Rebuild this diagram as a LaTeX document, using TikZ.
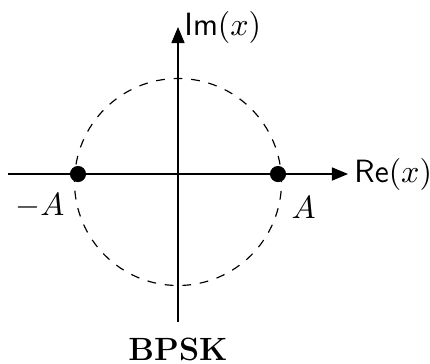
\documentclass[tikz,border=0pt]{standalone}
\usetikzlibrary{arrows.meta,positioning}

\tikzset{
    axis/.style={-{Triangle[length=5.5pt,width=4.5pt]}},
    symbol/.style={circle, fill=black, inner sep=0pt, minimum size=5.5pt},
    every node/.style={font=\fontsize{11pt}{13pt}\selectfont},
}

\begin{document}
\begin{tikzpicture}[scale=0.6]
            % Bounding box adjusted to match the reference margins
            \useasboundingbox (-3.56, -3.78) rectangle (5.04, 3.48);

            % Ends of the two axes
            \coordinate (xmin) at (-3.4, 0);
            \coordinate (xmax) at (3.4, 0);
            \coordinate (ymin) at (0, -2.96);
            \coordinate (ymax) at (0, 2.94);

            % Circle of constant energy (dashed, sits a little low)
            \draw[dashed] (0,-0.16) circle (2.07);

            % Real and imaginary axes
            \draw[axis] (xmin) -- (xmax);
            \draw[axis] (ymin) -- (ymax);
            \node[right, inner sep=2pt] (re) at (xmax) {\textsf{Re}$(x)$};
            \node[right, inner sep=2pt] (im) at (ymax) {\textsf{Im}$(x)$};

            % The two BPSK symbols
            \node[symbol] (neg) at (-2, 0) {};
            \node[symbol] (pos) at (2, 0) {};
            \node[below left=1pt and -1pt of neg] (lneg) {$-A$};
            \node[below right=2pt and -1pt of pos] (lpos) {$A$};

            % Caption
            \node (title) at (0, -3.5) {\textbf{BPSK}};
        \end{tikzpicture}
\end{document}
